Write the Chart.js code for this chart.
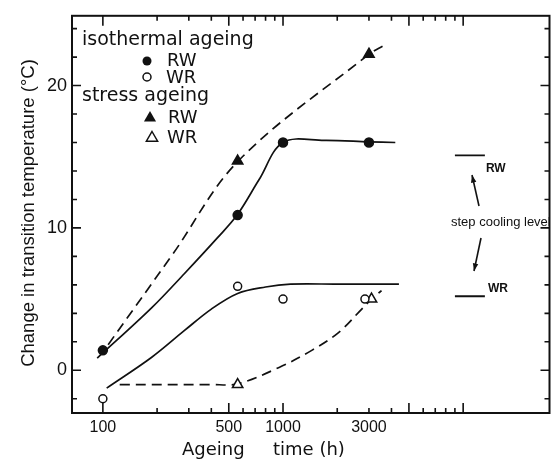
<!DOCTYPE html>
<html>
<head>
<meta charset="utf-8">
<script src="https://cdn.jsdelivr.net/npm/chart.js@4.4.1/dist/chart.umd.min.js"></script>
<style>
  html, body { margin: 0; padding: 0; background: #fff; }
  canvas { display: block; }
</style>
</head>
<body>
<canvas id="chart" width="557" height="462"></canvas>
<script>
// measured points (ageing time h, change in transition temperature C)
const isoRwTime = [100, 560, 1000, 3000];
const isoRwVal = [1.4, 10.9, 16.0, 16.0];
const isoWrTime = [100, 560, 1000, 2850];
const isoWrVal = [-2.0, 5.9, 5.0, 5.0];
const strRwTime = [560, 3000];
const strRwVal = [14.7, 22.2];
const strWrTime = [560, 3100];
const strWrVal = [-1.0, 5.0];

// trend curves
const isoRwCurveT = [93, 187, 284, 432, 556, 737, 1000, 1700, 3000, 4200];
const isoRwCurveV = [0.85, 4.4, 6.8, 9.3, 10.9, 13.4, 16.0, 16.15, 16.05, 16.0];
const isoWrCurveT = [105, 186, 284, 400, 560, 800, 1100, 2000, 4400];
const isoWrCurveV = [-1.25, 0.9, 2.8, 4.3, 5.4, 5.85, 6.05, 6.05, 6.05];
const strRwCurveT = [107, 244, 564, 3000, 3610];
const strRwCurveV = [1.8, 8.15, 14.7, 22.2, 22.8];
const strWrCurveT = [124, 400, 560, 951, 1444, 2033, 2736, 3100, 3523];
const strWrCurveV = [-1.0, -1.0, -0.95, 0.2, 1.4, 2.65, 4.3, 5.0, 5.6];

// step cooling levels
const stepNames = ['RW', 'WR'];
const stepLevels = [15.1, 5.2];
const stepSpan = [9000, 13200];

const xTickLabels = [100, 500, 1000, 3000];
const yTickLabels = [0, 10, 20];

const INK = '#111';
const pts = (t, v) => t.map((x, i) => ({ x: x, y: v[i] }));

const markerSet = (t, v, style, filled, r) => ({
  data: pts(t, v),
  showLine: false,
  pointStyle: style,
  pointRadius: r,
  pointBackgroundColor: filled ? INK : '#fff',
  pointBorderColor: INK,
  pointBorderWidth: 1.5
});
const curveSet = (t, v, dashed) => ({
  data: pts(t, v),
  showLine: true,
  borderColor: INK,
  borderWidth: 1.7,
  borderDash: dashed ? [10, 6] : [],
  pointRadius: 0,
  tension: 0.35,
  fill: false
});

const datasets = [
  markerSet(isoRwTime, isoRwVal, 'circle', true, 4.5),
  markerSet(isoWrTime, isoWrVal, 'circle', false, 4),
  markerSet(strRwTime, strRwVal, 'triangle', true, 6),
  markerSet(strWrTime, strWrVal, 'triangle', false, 6),
  curveSet(isoRwCurveT, isoRwCurveV, false),
  curveSet(isoWrCurveT, isoWrCurveV, false),
  curveSet(strRwCurveT, strRwCurveV, true),
  curveSet(strWrCurveT, strWrCurveV, true)
];
stepLevels.forEach(lv => {
  datasets.push({
    data: stepSpan.map(x => ({ x: x, y: lv })),
    showLine: true, borderColor: INK, borderWidth: 1.8, pointRadius: 0
  });
});

function arrow(ctx, x0, y0, x1, y1) {
  const ang = Math.atan2(y1 - y0, x1 - x0);
  ctx.beginPath();
  ctx.moveTo(x0, y0);
  ctx.lineTo(x1, y1);
  ctx.stroke();
  ctx.beginPath();
  ctx.moveTo(x1, y1);
  ctx.lineTo(x1 - 8 * Math.cos(ang - 0.35), y1 - 8 * Math.sin(ang - 0.35));
  ctx.lineTo(x1 - 8 * Math.cos(ang + 0.35), y1 - 8 * Math.sin(ang + 0.35));
  ctx.closePath();
  ctx.fill();
}

const decorations = {
  id: 'decorations',
  afterDraw(chart) {
    const { ctx, chartArea: a, scales: { x, y } } = chart;
    ctx.save();
    ctx.strokeStyle = INK;
    ctx.fillStyle = INK;

    // frame
    ctx.lineWidth = 2;
    ctx.strokeRect(a.left, a.top, a.right - a.left, a.bottom - a.top);

    // inward ticks
    ctx.lineWidth = 1.6;
    ctx.beginPath();
    for (let v = -2; v <= 24; v += 2) {
      const py = y.getPixelForValue(v);
      const len = v % 10 === 0 ? 9 : 5;
      ctx.moveTo(a.left, py); ctx.lineTo(a.left + len, py);
      ctx.moveTo(a.right, py); ctx.lineTo(a.right - len, py);
    }
    for (let dec = 100; dec <= 10000; dec *= 10) {
      for (let m = 1; m <= 9; m++) {
        const v = dec * m;
        if (v > 10000) break;
        const px = x.getPixelForValue(v);
        const len = (m === 1 || m === 5) ? 10 : 5;
        ctx.moveTo(px, a.bottom); ctx.lineTo(px, a.bottom - len);
        ctx.moveTo(px, a.top); ctx.lineTo(px, a.top + len);
      }
    }
    ctx.stroke();

    // axis titles
    ctx.textBaseline = 'middle';
    ctx.font = '18px "DejaVu Sans"';
    ctx.textAlign = 'left';
    ctx.fillText('Ageing', 182, 450);
    ctx.fillText('time (h)', 273, 450);

    ctx.save();
    ctx.translate(29, 213);
    ctx.rotate(-Math.PI / 2);
    ctx.textAlign = 'center';
    ctx.font = '18.5px "Liberation Sans"';
    ctx.fillText('Change in transition temperature (\u00b0C)', 0, 0);
    ctx.restore();

    // legend block
    ctx.textAlign = 'left';
    ctx.font = '19px "DejaVu Sans"';
    ctx.fillText('isothermal ageing', 82, 40);
    ctx.fillText('stress ageing', 82, 96);
    ctx.font = '18px "DejaVu Sans"';
    ctx.fillText('RW', 167, 61);
    ctx.fillText('WR', 166, 78);
    ctx.fillText('RW', 168, 118);
    ctx.fillText('WR', 167, 138);
    ctx.lineWidth = 1.5;
    ctx.beginPath(); ctx.arc(147, 61, 4.5, 0, Math.PI * 2); ctx.fill();
    ctx.beginPath(); ctx.arc(147, 77, 4, 0, Math.PI * 2); ctx.stroke();
    const tri = (cx, cy, r, filled) => {
      ctx.beginPath();
      ctx.moveTo(cx, cy - r);
      ctx.lineTo(cx + r * 0.866, cy + r * 0.5);
      ctx.lineTo(cx - r * 0.866, cy + r * 0.5);
      ctx.closePath();
      filled ? ctx.fill() : ctx.stroke();
    };
    tri(150, 118, 7, true);
    tri(152, 138, 6.5, false);

    // step cooling labels
    const sx = x.getPixelForValue(stepSpan[1]);
    ctx.font = 'bold 12px "Liberation Sans"';
    ctx.fillText(stepNames[0], sx + 1, y.getPixelForValue(stepLevels[0]) + 13);
    ctx.fillText(stepNames[1], sx + 3, y.getPixelForValue(stepLevels[1]) - 8);
    ctx.font = '13px "Liberation Sans"';
    ctx.fillText('step cooling level', 451, 222);
    ctx.lineWidth = 1.6;
    arrow(ctx, 479, 206, 472, 175);
    arrow(ctx, 481, 238, 474, 271);
    ctx.restore();
  }
};

new Chart(document.getElementById('chart'), {
  type: 'scatter',
  data: { datasets: datasets },
  options: {
    responsive: false,
    animation: false,
    devicePixelRatio: 1,
    layout: { padding: { top: 13, right: 5, left: 0, bottom: 0 } },
    plugins: { legend: { display: false }, tooltip: { enabled: false } },
    scales: {
      x: {
        type: 'logarithmic',
        min: 67.4,
        max: 30150,
        grid: { display: false, drawTicks: false },
        border: { display: false },
        afterBuildTicks: s => { s.ticks = xTickLabels.map(v => ({ value: v })); },
        afterFit: s => { s.height = 49; },
        ticks: {
          autoSkip: false, maxRotation: 0, padding: 5, color: INK,
          font: { family: '"Liberation Sans"', size: 16 },
          callback: v => String(v)
        }
      },
      y: {
        min: -3,
        max: 24.9,
        grid: { display: false, drawTicks: false },
        border: { display: false },
        afterBuildTicks: s => { s.ticks = yTickLabels.map(v => ({ value: v })); },
        afterFit: s => { s.width = 72; },
        ticks: {
          padding: 5, color: INK,
          font: { family: '"Liberation Sans"', size: 18 },
          callback: v => String(v)
        }
      }
    }
  },
  plugins: [decorations]
});
</script>
</body>
</html>
